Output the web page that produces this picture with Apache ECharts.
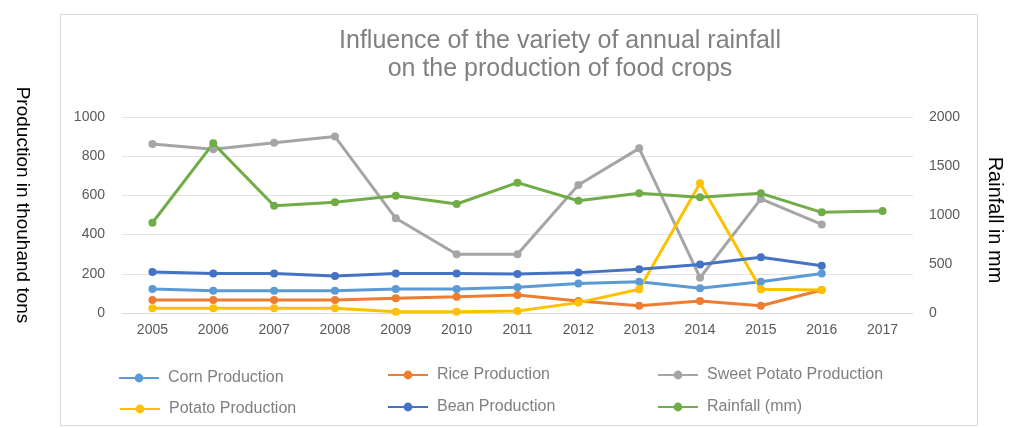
<!DOCTYPE html>
<html>
<head>
<meta charset="utf-8">
<script src="https://cdn.jsdelivr.net/npm/echarts@6/dist/echarts.min.js"></script>
<style>
  html, body { margin: 0; padding: 0; background: #fff; }
  #chart { width: 1009px; height: 428px; }
</style>
</head>
<body>
<div id="chart"></div>
<script>
// Years on the category axis
const years = ['2005','2006','2007','2008','2009','2010','2011','2012','2013','2014','2015','2016','2017'];

// Production in thousand tons (left axis)
const cornProduction = [122, 114, 114, 114, 122, 122, 131, 151, 160, 126, 160, 202, null];
const riceProduction = [66, 66, 66, 66, 75, 83, 92, 61, 37, 61, 37, 117, null];
const sweetPotatoProduction = [862, 835, 869, 900, 483, 300, 300, 653, 840, 180, 582, 452, null];
const potatoProduction = [24, 24, 24, 24, 7, 7, 10, 53, 121, 662, 121, 117, null];
const beanProduction = [209, 202, 202, 189, 202, 202, 199, 206, 223, 248, 284, 241, null];

// Annual rainfall in mm (right axis)
const rainfall = [921, 1731, 1095, 1129, 1197, 1112, 1330, 1146, 1221, 1180, 1221, 1027, 1041];

const seriesDefs = [
  { name: 'Corn Production', data: cornProduction, color: '#5b9bd5', axis: 0 },
  { name: 'Rice Production', data: riceProduction, color: '#ed7d31', axis: 0 },
  { name: 'Sweet Potato Production', data: sweetPotatoProduction, color: '#a5a5a5', axis: 0 },
  { name: 'Potato Production', data: potatoProduction, color: '#ffc000', axis: 0 },
  { name: 'Bean Production', data: beanProduction, color: '#4472c4', axis: 0 },
  { name: 'Rainfall (mm)', data: rainfall, color: '#70ad47', axis: 1 }
];

const FONT = '"Liberation Sans", Arial, sans-serif';

// One legend block per entry, laid out in a 3x2 grid
const legendSlots = [
  { left: 113, top: 365 }, { left: 382, top: 362 }, { left: 652, top: 362 },
  { left: 114, top: 396 }, { left: 382, top: 394 }, { left: 652, top: 394 }
];
const legends = seriesDefs.map((s, i) => ({
  data: [s.name],
  left: legendSlots[i].left,
  top: legendSlots[i].top,
  itemWidth: 40,
  itemHeight: 11,
  textStyle: { color: '#7f7f7f', fontSize: 16, fontFamily: FONT, padding: [0, 0, 0, 4] }
}));

const plainNumber = v => String(v);

const chart = echarts.init(document.getElementById('chart'), null, { renderer: 'canvas' });

chart.setOption({
  backgroundColor: '#ffffff',
  animation: false,
  graphic: [
    {
      type: 'rect',
      shape: { x: 60.5, y: 14.5, width: 917, height: 411 },
      style: { fill: 'none', stroke: '#d9d9d9', lineWidth: 1 },
      z: -10
    },
    {
      type: 'text',
      x: 22, y: 205,
      rotation: -Math.PI / 2,
      style: {
        text: 'Production in thouhand tons',
        fill: '#000', font: '19px ' + FONT,
        textAlign: 'center', textVerticalAlign: 'middle'
      }
    },
    {
      type: 'text',
      x: 995, y: 220,
      rotation: -Math.PI / 2,
      style: {
        text: 'Rainfall in mm',
        fill: '#000', font: '20px ' + FONT,
        textAlign: 'center', textVerticalAlign: 'middle'
      }
    }
  ],
  title: {
    text: 'Influence of the variety of annual rainfall\non the production of food crops',
    left: 555,
    textAlign: 'center',
    top: 22,
    textStyle: { color: '#808080', fontSize: 25, fontWeight: 'normal', fontFamily: FONT, lineHeight: 28 }
  },
  legend: legends,
  grid: { left: 122, right: 96, top: 117, bottom: 115, outerBoundsMode: 'none', containLabel: false },
  xAxis: {
    type: 'category',
    data: years,
    boundaryGap: true,
    axisLine: { lineStyle: { color: '#d9d9d9' } },
    axisTick: { show: false },
    axisLabel: { color: '#595959', fontSize: 14, fontFamily: FONT, margin: 10 }
  },
  yAxis: [
    {
      type: 'value',
      min: 0, max: 1000, interval: 200,
      axisLine: { show: false },
      axisTick: { show: false },
      axisLabel: { color: '#595959', fontSize: 14, fontFamily: FONT, margin: 17, formatter: plainNumber },
      splitLine: { lineStyle: { color: '#e3e3e3' } }
    },
    {
      type: 'value',
      min: 0, max: 2000, interval: 500,
      axisLine: { show: false },
      axisTick: { show: false },
      axisLabel: { color: '#595959', fontSize: 14, fontFamily: FONT, margin: 16, formatter: plainNumber },
      splitLine: { show: false }
    }
  ],
  series: seriesDefs.map(s => ({
    name: s.name,
    type: 'line',
    yAxisIndex: s.axis,
    data: s.data,
    symbol: 'circle',
    symbolSize: 8,
    connectNulls: false,
    lineStyle: { color: s.color, width: 3 },
    itemStyle: { color: s.color }
  }))
});
</script>
</body>
</html>
